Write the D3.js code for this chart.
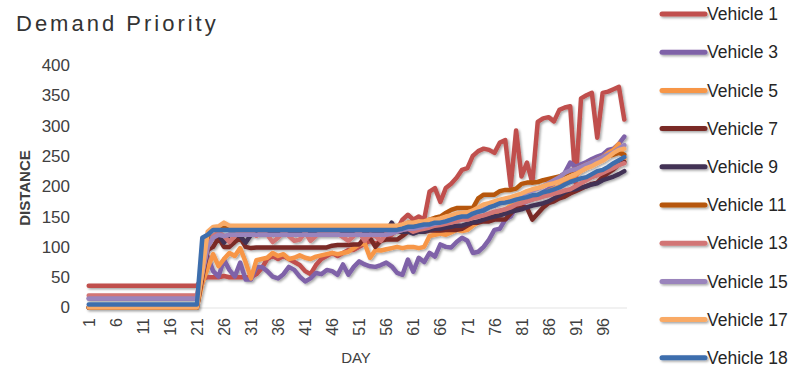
<!DOCTYPE html>
<html><head><meta charset="utf-8">
<script src="https://cdn.jsdelivr.net/npm/d3@7"></script>
<style>body{margin:0;background:#fff}svg{display:block}</style>
</head><body>
<svg id="chart" width="792" height="369"></svg>
<script>
const days = [];
for (let d = 1; d <= 100; d++) days.push(d);
const xTickLabels = ["1","6","11","16","21","26","31","36","41","46","51","56","61","66","71","76","81","86","91","96"];
const yTickValues = [0,50,100,150,200,250,300,350,400];
const seriesNames = ["Vehicle 1","Vehicle 3","Vehicle 5","Vehicle 7","Vehicle 9","Vehicle 11","Vehicle 13","Vehicle 15","Vehicle 17","Vehicle 18"];
const seriesColors = ["#C0504D","#7F62A8","#F79646","#7A2A28","#433255","#B65708","#D27474","#9A84BC","#F9AA66","#3E6EAD"];

const vehicle1 = [36,36,36,36,36,36,36,36,36,36,36,36,36,36,36,36,36,36,36,36,36,
48,50,50,50,52,50,50,50,50,50,
55,65,80,85,80,85,80,75,70,60,
55,70,80,85,90,85,90,95,95,100,
105,110,105,110,115,120,128,145,153,145,
150,145,191,197,174,197,204,214,227,230,
250,258,262,260,255,272,276,200,292,216,
239,206,306,312,314,307,326,330,332,205,
345,350,354,280,354,356,360,364,310];
const vehicle3 = [15,15,15,15,15,15,15,15,15,15,15,15,15,15,15,15,15,15,15,15,15,
40,84,60,51,79,62,51,74,46,46,
67,67,60,51,48,55,67,62,51,43,
48,57,55,62,60,54,71,54,67,76,
71,68,67,70,74,68,57,54,79,59,
82,75,90,84,104,100,99,108,115,110,
90,92,100,112,128,130,145,150,166,170,
175,178,185,190,195,205,215,222,239,232,
236,240,245,249,252,260,262,270,282];
const vehicle5 = [0,0,0,0,0,0,0,0,0,0,0,0,0,0,0,0,0,0,0,0,0,
40,65,88,68,80,90,85,98,75,48,
78,80,82,90,85,88,80,82,86,82,
80,84,86,88,90,88,90,92,98,104,
106,82,95,94,96,98,100,98,100,100,
98,100,118,120,122,120,124,128,126,128,
135,140,145,150,155,158,162,168,170,175,
178,182,186,188,192,196,200,205,210,218,
225,230,238,242,248,255,260,270,245];
const vehicle7 = [0,0,0,0,0,0,0,0,0,0,0,0,0,0,0,0,0,0,0,0,0,
50,95,100,115,100,100,108,115,100,98,
99,99,99,99,99,99,99,99,99,99,
99,99,99,99,102,103,103,103,104,104,
115,115,100,110,112,112,112,118,125,125,
125,125,127,127,127,128,128,128,130,135,
140,140,142,142,145,145,145,155,165,166,
165,145,155,165,172,175,180,183,188,192,
196,200,204,206,215,222,228,236,240];
const vehicle9 = [0,0,0,0,0,0,0,0,0,0,0,0,0,0,0,0,0,0,0,0,0,
60,110,115,120,107,120,120,118,107,120,
122,122,122,122,122,122,122,122,122,122,
122,122,122,122,122,122,122,122,122,122,
122,122,122,122,125,140,125,125,125,122,
125,125,128,130,130,132,133,135,135,138,
140,142,145,148,150,152,155,158,160,162,
165,168,170,172,175,180,185,190,194,195,
198,200,203,205,210,213,216,220,225];
const vehicle11 = [0,0,0,0,0,0,0,0,0,0,0,0,0,0,0,0,0,0,0,0,0,
60,118,131,131,131,131,131,131,131,131,
131,131,131,131,131,131,131,131,131,131,
131,131,131,131,131,131,131,131,131,131,
131,131,131,131,131,131,131,135,140,140,
140,142,145,148,150,156,161,164,164,164,
164,180,186,186,186,192,194,194,196,204,
206,206,207,210,212,214,216,220,224,228,
232,236,240,244,248,250,252,255,252];
const vehicle13 = [20,20,20,20,20,20,20,20,20,20,20,20,20,20,20,20,20,20,20,20,20,
60,100,118,124,118,108,118,124,124,124,
118,124,120,108,115,124,118,110,112,124,
110,118,124,124,124,122,116,110,118,124,
110,120,118,110,122,124,125,128,130,125,
128,130,132,135,136,138,140,142,145,145,
148,150,152,155,158,160,162,165,170,172,
175,178,180,183,185,188,190,193,195,200,
205,210,215,218,222,226,230,235,238];
const vehicle15 = [15,15,15,15,15,15,15,15,15,15,15,15,15,15,15,15,15,15,15,15,15,
55,100,115,120,118,120,120,120,120,120,
120,120,120,120,120,120,120,120,120,120,
120,120,120,120,120,120,120,120,120,120,
120,120,120,120,120,122,125,128,130,130,
132,134,136,138,140,142,145,148,150,152,
155,158,162,165,168,172,176,180,182,186,
190,193,196,200,205,210,215,222,226,228,
232,236,240,244,248,252,256,262,268];
const vehicle17 = [0,0,0,0,0,0,0,0,0,0,0,0,0,0,0,0,0,0,0,0,0,
60,125,133,134,140,135,135,135,135,135,
135,135,135,135,135,135,135,135,135,135,
135,135,135,135,135,135,135,135,135,135,
135,135,135,135,135,135,135,137,140,140,
142,142,145,145,147,150,152,155,156,157,
160,165,170,172,175,178,180,182,185,188,
192,195,197,200,203,205,208,212,216,220,
225,230,233,238,242,248,255,260,262];
const vehicle18 = [5,5,5,5,5,5,5,5,5,5,5,5,5,5,5,5,5,5,5,5,5,
115,120,128,128,128,128,128,128,128,128,
128,128,128,128,128,128,128,128,128,128,
128,128,128,128,128,128,128,128,128,128,
128,128,128,128,128,128,128,130,133,133,
135,137,137,140,140,142,145,148,150,150,
155,158,160,165,168,172,173,175,178,180,
182,185,186,190,192,195,198,203,207,210,
213,215,220,225,227,232,238,243,248];

const seriesValues = [vehicle1,vehicle3,vehicle5,vehicle7,vehicle9,vehicle11,vehicle13,vehicle15,vehicle17,vehicle18];

const svg = d3.select("#chart");
const font = "'Liberation Sans', Arial, sans-serif";
const textColor = "#404040";

const defs = svg.append("defs");
const f = defs.append("filter").attr("id","shadow").attr("filterUnits","userSpaceOnUse")
  .attr("x",0).attr("y",0).attr("width",792).attr("height",369);
f.append("feDropShadow").attr("dx",1.5).attr("dy",1.5).attr("stdDeviation",1.2).attr("flood-color","#000").attr("flood-opacity",0.35);

const x = d3.scalePoint().domain(days).range([86, 627]).padding(0.5);
const y = d3.scaleLinear().domain([0, 400]).range([307.5, 65]);

// Title
svg.append("text").attr("x",16).attr("y",31).text("Demand Priority")
  .attr("font-family",font).attr("font-size",22).attr("letter-spacing","3px").attr("fill","#333");

// x axis baseline
svg.append("line").attr("x1",86).attr("x2",627).attr("y1",y(0)+0.5).attr("y2",y(0)+0.5)
  .attr("stroke","#e3e3e3").attr("stroke-width",1);

// Y axis labels
const yAxis = d3.axisLeft(y).tickValues(yTickValues).tickSize(0).tickPadding(0);
const yg = svg.append("g").attr("transform","translate(70,0)").call(yAxis);
yg.select(".domain").remove();
yg.selectAll("text").attr("font-family",font).attr("font-size",17).attr("fill",textColor);

// X axis labels
const xAxis = d3.axisBottom(x).tickValues(xTickLabels.map(Number)).tickSize(0).tickFormat((d,i)=>xTickLabels[i]);
const xg = svg.append("g").attr("transform",`translate(0,${318})`).call(xAxis);
xg.select(".domain").remove();
xg.selectAll("text").attr("font-family",font).attr("font-size",16).attr("fill",textColor)
  .attr("text-anchor","end").attr("transform","rotate(-90)").attr("x",0).attr("y",0).attr("dy","0.35em");

// axis titles
svg.append("text").attr("transform","translate(25,188) rotate(-90)").attr("text-anchor","middle")
  .attr("dy","0.35em").attr("font-family",font).attr("font-size",15).attr("font-weight","bold").attr("fill",textColor).text("DISTANCE");
svg.append("text").attr("x",356).attr("y",358).attr("dy","0.35em").attr("text-anchor","middle")
  .attr("font-family",font).attr("font-size",15).attr("fill",textColor).text("DAY");

// Lines
const line = d3.line().x((d,i)=>x(days[i])).y(d=>y(d));
const lg = svg.append("g").attr("filter","url(#shadow)");
seriesValues.forEach((vals, k) => {
  lg.append("path").datum(vals).attr("d", line).attr("fill","none")
    .attr("stroke", seriesColors[k]).attr("stroke-width",4.5)
    .attr("stroke-linejoin","round").attr("stroke-linecap","round");
});

// Legend
const leg = svg.append("g");
const legLines = leg.append("g").attr("filter","url(#shadow)");
seriesNames.forEach((name, k) => {
  const yy = 14 + k * 38.2;
  legLines.append("line").attr("x1",662).attr("x2",705).attr("y1",yy).attr("y2",yy)
    .attr("stroke",seriesColors[k]).attr("stroke-width",5).attr("stroke-linecap","round");
  leg.append("text").attr("x",707).attr("y",yy).attr("dy","0.35em")
    .attr("font-family",font).attr("font-size",17.5).attr("fill","#262626").text(name);
});
</script>
</body></html>
